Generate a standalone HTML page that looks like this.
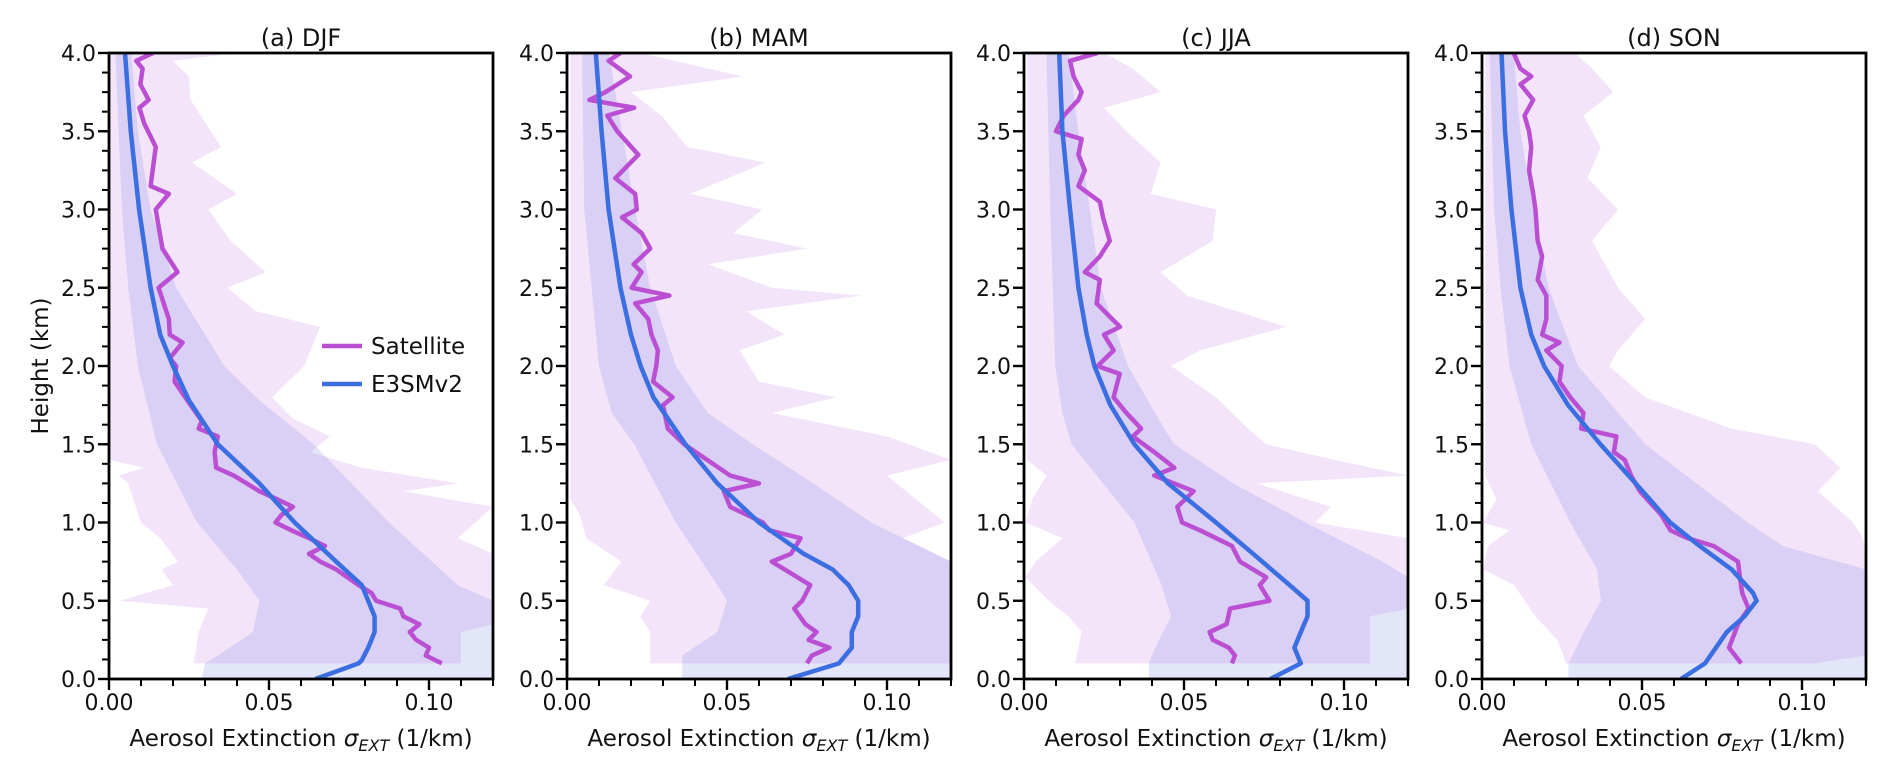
<!DOCTYPE html>
<html><head><meta charset="utf-8"><style>
html,body{margin:0;padding:0;background:#fff;}
svg{display:block;font-family:"DejaVu Sans","Liberation Sans",sans-serif;}
</style></head><body>
<svg id="fig" width="1892" height="768" viewBox="0 0 1892 768"></svg>
<script>
const panelTitles = ["(a) DJF","(b) MAM","(c) JJA","(d) SON"];
const xTickVals = [0, 0.05, 0.10];
const xTickLabels = ["0.00","0.05","0.10"];
const yTickVals = [0,0.5,1,1.5,2,2.5,3,3.5,4];
const yTickLabels = ["0.0","0.5","1.0","1.5","2.0","2.5","3.0","3.5","4.0"];
const legendLabels = ["Satellite","E3SMv2"];

// [height km, extinction]
const satDJF = [[4,0.0138],[3.95,0.0085],[3.9,0.0105],[3.8,0.0098],[3.7,0.0124],[3.65,0.0095],[3.55,0.011],[3.4,0.0146],[3.15,0.013],[3.1,0.0187],[3.0,0.0146],[2.75,0.0167],[2.6,0.0214],[2.5,0.0155],[2.3,0.0187],[2.2,0.019],[2.15,0.023],[2.05,0.019],[2.0,0.021],[1.9,0.0205],[1.78,0.0245],[1.65,0.029],[1.6,0.028],[1.55,0.034],[1.45,0.033],[1.35,0.0335],[1.3,0.039],[1.2,0.047],[1.15,0.0524],[1.1,0.0575],[1.05,0.054],[1.0,0.052],[0.95,0.057],[0.9,0.0625],[0.85,0.0675],[0.8,0.0625],[0.75,0.066],[0.7,0.071],[0.6,0.078],[0.55,0.082],[0.5,0.0835],[0.45,0.091],[0.4,0.092],[0.35,0.097],[0.3,0.094],[0.25,0.096],[0.2,0.100],[0.15,0.099],[0.1,0.104]];
const modDJF = [[4,0.005],[3.5,0.0068],[3,0.0094],[2.5,0.013],[2.2,0.016],[2,0.020],[1.78,0.025],[1.5,0.034],[1.25,0.047],[1,0.058],[0.75,0.071],[0.6,0.079],[0.5,0.081],[0.4,0.083],[0.3,0.083],[0.2,0.081],[0.12,0.079],[0.1,0.078],[0,0.0645]];
const satLoDJF = [[4,0],[1.4,0],[1.35,0.011],[1.3,0.003],[1.25,0.006],[1.0,0.010],[0.9,0.016],[0.75,0.0215],[0.7,0.0165],[0.6,0.020],[0.5,0.0035],[0.45,0.031],[0.3,0.028],[0.1,0.0265]];
const satHiDJF = [[4,0.04],[3.95,0.02],[3.85,0.025],[3.7,0.0255],[3.4,0.035],[3.3,0.026],[3.1,0.040],[3.0,0.031],[2.8,0.038],[2.6,0.049],[2.5,0.037],[2.35,0.046],[2.25,0.066],[2.0,0.061],[1.8,0.051],[1.67,0.057],[1.55,0.069],[1.45,0.063],[1.35,0.079],[1.25,0.109],[1.2,0.092],[1.1,0.12],[0.9,0.109],[0.8,0.12],[0.35,0.12],[0.3,0.11],[0.1,0.11]];
const modLoDJF = [[4,0.002],[3,0.004],[2.5,0.006],[2,0.009],[1.5,0.015],[1,0.0275],[0.7,0.040],[0.5,0.047],[0.3,0.045],[0.15,0.034],[0.1,0.030],[0,0.029]];
const modHiDJF = [[4,0.007],[3.5,0.009],[3,0.013],[2.5,0.021],[2,0.036],[1.78,0.047],[1.5,0.064],[1,0.0875],[0.6,0.109],[0.5,0.12],[0,0.12]];

const satMAM = [[4,0.0167],[3.95,0.013],[3.85,0.0197],[3.75,0.012],[3.7,0.007],[3.65,0.021],[3.6,0.0126],[3.5,0.0157],[3.35,0.0223],[3.2,0.0151],[3.1,0.0213],[3.0,0.0218],[2.95,0.0172],[2.85,0.0233],[2.75,0.026],[2.65,0.0208],[2.6,0.0233],[2.5,0.0202],[2.45,0.032],[2.4,0.0213],[2.3,0.0254],[2.2,0.0264],[2.1,0.0284],[2.0,0.0279],[1.9,0.0269],[1.8,0.033],[1.75,0.030],[1.6,0.0315],[1.5,0.0366],[1.4,0.0438],[1.3,0.051],[1.25,0.060],[1.2,0.049],[1.1,0.051],[1.0,0.0612],[0.95,0.0632],[0.9,0.073],[0.8,0.070],[0.75,0.064],[0.6,0.076],[0.5,0.0735],[0.45,0.071],[0.35,0.0745],[0.3,0.078],[0.25,0.0755],[0.2,0.082],[0.15,0.0765],[0.1,0.075]];
const modMAM = [[4,0.009],[3.5,0.0108],[3,0.013],[2.5,0.0167],[2.2,0.020],[2,0.023],[1.8,0.027],[1.5,0.037],[1.25,0.047],[1,0.060],[0.8,0.074],[0.7,0.083],[0.6,0.088],[0.5,0.091],[0.4,0.091],[0.3,0.089],[0.2,0.089],[0.1,0.085],[0,0.069]];
const satLoMAM = [[4,0.001],[1.4,0.001],[1.15,0.001],[1.05,0.004],[0.9,0.006],[0.75,0.017],[0.6,0.0115],[0.5,0.026],[0.4,0.023],[0.3,0.026],[0.1,0.026]];
const satHiMAM = [[4,0.023],[3.85,0.055],[3.75,0.020],[3.6,0.0295],[3.4,0.0376],[3.3,0.062],[3.1,0.0386],[3.0,0.061],[2.85,0.052],[2.75,0.075],[2.65,0.044],[2.5,0.064],[2.45,0.092],[2.35,0.056],[2.2,0.068],[2.1,0.054],[1.9,0.060],[1.8,0.084],[1.7,0.064],[1.55,0.100],[1.4,0.12],[1.3,0.100],[1.0,0.118],[0.9,0.105],[0.75,0.12],[0.1,0.12]];
const modLoMAM = [[4,0.0047],[3,0.0054],[2,0.010],[1.7,0.014],[1.5,0.021],[1,0.034],[0.6,0.047],[0.5,0.050],[0.3,0.047],[0.15,0.036],[0.1,0.036],[0,0.036]];
const modHiMAM = [[4,0.013],[3.5,0.0172],[3,0.0213],[2.5,0.026],[2,0.034],[1.7,0.044],[1.5,0.058],[1.25,0.077],[1,0.095],[0.75,0.12],[0,0.12]];

const satJJA = [[4,0.023],[3.95,0.0144],[3.85,0.0155],[3.75,0.018],[3.7,0.017],[3.6,0.0124],[3.5,0.010],[3.45,0.018],[3.35,0.017],[3.25,0.019],[3.15,0.017],[3.05,0.0237],[2.95,0.0247],[2.8,0.0268],[2.7,0.0237],[2.6,0.019],[2.55,0.0237],[2.4,0.0227],[2.25,0.030],[2.2,0.025],[2.1,0.028],[2.0,0.023],[1.95,0.0299],[1.8,0.028],[1.7,0.032],[1.6,0.0366],[1.55,0.034],[1.45,0.0407],[1.35,0.047],[1.3,0.0407],[1.2,0.053],[1.1,0.0479],[1.0,0.0494],[0.95,0.055],[0.85,0.065],[0.75,0.0675],[0.65,0.0757],[0.6,0.0737],[0.5,0.0767],[0.45,0.0644],[0.35,0.0633],[0.3,0.058],[0.25,0.059],[0.2,0.064],[0.15,0.0659],[0.1,0.065]];
const modJJA = [[4,0.011],[3.5,0.012],[3,0.0144],[2.5,0.017],[2.2,0.0196],[2,0.022],[1.75,0.027],[1.5,0.0345],[1.25,0.045],[1,0.060],[0.8,0.0716],[0.6,0.083],[0.5,0.0886],[0.4,0.0886],[0.3,0.0865],[0.2,0.0845],[0.1,0.0865],[0,0.077]];
const satLoJJA = [[4,0.001],[1.4,0.001],[1.3,0.007],[1.15,0.0026],[1.0,0.0005],[0.9,0.012],[0.75,0.0036],[0.65,0.0005],[0.5,0.0077],[0.4,0.0139],[0.3,0.018],[0.1,0.016]];
const satHiJJA = [[4,0.025],[3.9,0.034],[3.75,0.0427],[3.65,0.025],[3.5,0.032],[3.3,0.0427],[3.1,0.0396],[3.0,0.060],[2.8,0.059],[2.6,0.0427],[2.45,0.051],[2.25,0.082],[2.1,0.055],[2.0,0.046],[1.8,0.060],[1.6,0.070],[1.5,0.0757],[1.4,0.097],[1.3,0.12],[1.25,0.0726],[1.1,0.096],[1.0,0.091],[0.9,0.12],[0.45,0.12],[0.4,0.108],[0.1,0.108]];
const modLoJJA = [[4,0.007],[3,0.0082],[2,0.0098],[1.7,0.012],[1.5,0.0149],[1,0.0345],[0.6,0.043],[0.4,0.046],[0.2,0.041],[0.1,0.039],[0,0.039]];
const modHiJJA = [[4,0.0139],[3.5,0.017],[3,0.0206],[2.5,0.024],[2,0.0325],[1.6,0.0438],[1.5,0.047],[1.25,0.0654],[1,0.088],[0.75,0.112],[0.65,0.12],[0,0.12]];

const satSON = [[4,0.0099],[3.9,0.012],[3.85,0.0154],[3.8,0.012],[3.7,0.0160],[3.6,0.0133],[3.5,0.0147],[3.4,0.0154],[3.25,0.0147],[3.1,0.0160],[3.0,0.0167],[2.8,0.0174],[2.7,0.0188],[2.55,0.0174],[2.45,0.0201],[2.3,0.0201],[2.2,0.0188],[2.15,0.0242],[2.1,0.0201],[2.0,0.0249],[1.9,0.0242],[1.8,0.0276],[1.7,0.0317],[1.6,0.031],[1.55,0.042],[1.45,0.0412],[1.4,0.0446],[1.3,0.0466],[1.2,0.0493],[1.05,0.056],[0.95,0.0589],[0.9,0.0642],[0.85,0.0724],[0.75,0.080],[0.65,0.0806],[0.55,0.0813],[0.45,0.0833],[0.35,0.080],[0.2,0.0772],[0.1,0.081]];
const modSON = [[4,0.0061],[3.5,0.0072],[3,0.0092],[2.5,0.012],[2.2,0.0154],[2,0.0194],[1.75,0.0269],[1.5,0.037],[1.25,0.048],[1,0.0588],[0.85,0.068],[0.7,0.078],[0.55,0.0847],[0.5,0.0858],[0.4,0.0820],[0.3,0.0765],[0.2,0.0731],[0.1,0.0697],[0,0.0622]];
const satLoSON = [[4,0.001],[1.3,0.001],[1.15,0.0045],[1.0,0.0004],[0.95,0.0086],[0.85,0.0018],[0.7,0.0004],[0.6,0.010],[0.4,0.0167],[0.25,0.0235],[0.15,0.0255],[0.1,0.0262]];
const satHiSON = [[4,0.029],[3.9,0.0345],[3.75,0.041],[3.6,0.0317],[3.4,0.0371],[3.2,0.033],[3.0,0.0425],[2.8,0.0344],[2.5,0.0425],[2.3,0.051],[2.1,0.0425],[2.0,0.0397],[1.8,0.051],[1.6,0.0779],[1.5,0.104],[1.35,0.112],[1.2,0.105],[1.0,0.116],[0.9,0.119],[0.8,0.12],[0.15,0.12],[0.1,0.104]];
const modLoSON = [[4,0.0024],[3,0.0038],[2.5,0.0058],[2,0.0086],[1.5,0.0154],[1,0.0276],[0.7,0.036],[0.5,0.0372],[0.3,0.0318],[0.15,0.0283],[0.1,0.027],[0,0.027]];
const modHiSON = [[4,0.0099],[3.5,0.012],[3,0.016],[2.5,0.0208],[2,0.030],[1.5,0.051],[1,0.083],[0.85,0.094],[0.7,0.12],[0,0.12]];

const satSeries = [satDJF,satMAM,satJJA,satSON];
const modSeries = [modDJF,modMAM,modJJA,modSON];
const satLo = [satLoDJF,satLoMAM,satLoJJA,satLoSON];
const satHi = [satHiDJF,satHiMAM,satHiJJA,satHiSON];
const modLo = [modLoDJF,modLoMAM,modLoJJA,modLoSON];
const modHi = [modHiDJF,modHiMAM,modHiJJA,modHiSON];

const NS = "http://www.w3.org/2000/svg";
const svg = document.getElementById("fig");
const PANEL_LEFTS = [109, 567, 1024, 1482];
const PW = 384, TOP = 53, BOT = 679, XMAX = 0.12, YMAX = 4;
const SAT_COLOR = "#bb4fd3", MOD_COLOR = "#3b6ee0";

function mk(tag, attrs, parent) {
  const e = document.createElementNS(NS, tag);
  for (const k in attrs) e.setAttribute(k, attrs[k]);
  (parent || svg).appendChild(e);
  return e;
}

const defs = mk("defs", {});

panelTitles.forEach((title, p) => {
  const L = PANEL_LEFTS[p];
  const xs = v => L + v / XMAX * PW;
  const ys = h => BOT - h / YMAX * (BOT - TOP);
  const g = mk("g", {});
  
  

  const cp = mk("clipPath", {id: "clip" + p}, defs);
  mk("rect", {x: L, y: TOP, width: PW, height: BOT - TOP}, cp);
  const plot = mk("g", {"clip-path": "url(#clip" + p + ")"}, g);

  const band = (lo, hi, fill, name) => {
    const pts = lo.map(d => xs(d[1]) + "," + ys(d[0]))
      .concat(hi.slice().reverse().map(d => xs(d[1]) + "," + ys(d[0])));
    const poly = mk("polygon", {points: pts.join(" "), fill: fill}, plot);
    
    
  };
  band(satLo[p], satHi[p], "rgba(200,120,225,0.2)", "satellite-range-band");
  band(modLo[p], modHi[p], "rgba(100,110,220,0.18)", "e3smv2-range-band");

  const line = (data, color, name) => {
    const pl = mk("polyline", {points: data.map(d => xs(d[1]) + "," + ys(d[0])).join(" "),
      fill: "none", stroke: color, "stroke-width": 4.5, "stroke-linejoin": "round"}, plot);
    
    
  };
  line(satSeries[p], SAT_COLOR, "satellite-line");
  line(modSeries[p], MOD_COLOR, "e3smv2-line");

  const fr = mk("rect", {x: L, y: TOP, width: PW, height: BOT - TOP, fill: "none", stroke: "#000", "stroke-width": 2.8}, g);
  
  

  for (let i = 0; i <= 32; i++) {
    const h = i * 0.125, y = ys(h), major = i % 4 === 0;
    mk("line", {x1: L - (major ? 11 : 7), x2: L, y1: y, y2: y, stroke: "#000", "stroke-width": major ? 2.4 : 2}, g);
  }
  yTickVals.forEach((v, i) => {
    const t = mk("text", {x: L - 13, y: ys(v) + 8, "text-anchor": "end", "font-size": 22, fill: "#111"}, g);
    t.textContent = yTickLabels[i];
    
    
  });
  for (let i = 0; i <= 12; i++) {
    const x = xs(i * 0.01), major = i % 5 === 0;
    mk("line", {x1: x, x2: x, y1: BOT, y2: BOT + (major ? 11 : 7), stroke: "#000", "stroke-width": major ? 2.4 : 2}, g);
  }
  xTickVals.forEach((v, i) => {
    const t = mk("text", {x: xs(v), y: 710, "text-anchor": "middle", "font-size": 22, fill: "#111"}, g);
    t.textContent = xTickLabels[i];
    
    
  });
  const tt = mk("text", {x: L + PW / 2, y: 46, "text-anchor": "middle", "font-size": 24, fill: "#111"}, g);
  tt.textContent = title;
  
  
  const xl = mk("text", {x: L + PW / 2, y: 746, "text-anchor": "middle", "font-size": 23, fill: "#111"}, g);
  
  
  const s1 = mk("tspan", {}, xl); s1.textContent = "Aerosol Extinction ";
  const s2 = mk("tspan", {"font-style": "italic"}, xl); s2.textContent = "σ";
  const s3 = mk("tspan", {"font-style": "italic", "font-size": 16, dy: 5}, xl); s3.textContent = "EXT";
  const s4 = mk("tspan", {dy: -5}, xl); s4.textContent = " (1/km)";
});

const yt = mk("text", {x: 0, y: 0, "text-anchor": "middle", "font-size": 23, fill: "#111",
  transform: "translate(48,366) rotate(-90)"});
yt.textContent = "Height (km)";



const lg = mk("g", {});


[[SAT_COLOR, 346], [MOD_COLOR, 384]].forEach((c, i) => {
  const e = mk("g", {}, lg);
  
  
  mk("line", {x1: 322, x2: 362, y1: c[1], y2: c[1], stroke: c[0], "stroke-width": 4.5}, e);
  const t = mk("text", {x: 371, y: c[1] + 8, "font-size": 23, fill: "#111"}, e);
  t.textContent = legendLabels[i];
});
</script>
</body></html>
